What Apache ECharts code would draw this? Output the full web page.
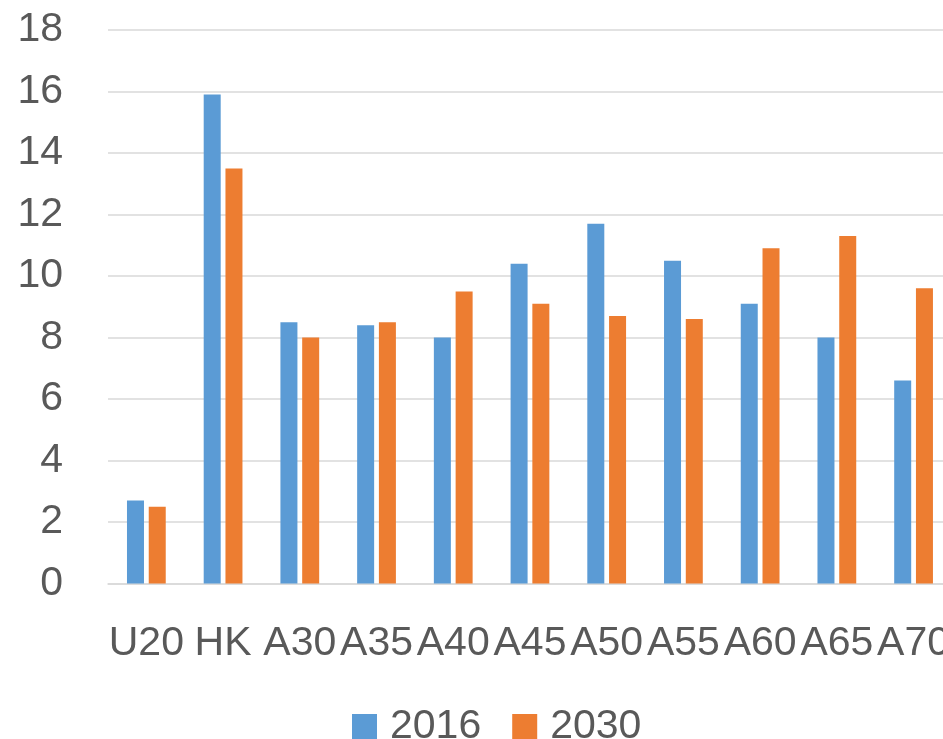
<!DOCTYPE html>
<html>
<head>
<meta charset="utf-8">
<script src="https://cdn.jsdelivr.net/npm/echarts@6/dist/echarts.min.js"></script>
<style>
  html, body { margin: 0; padding: 0; background: #ffffff; overflow: hidden; }
  #chart { width: 953px; height: 739px; }
</style>
</head>
<body>
<div id="chart"></div>
<script>
// Age groups on the category axis
const categories = ['U20', 'HK', 'A30', 'A35', 'A40', 'A45', 'A50', 'A55', 'A60', 'A65', 'A70'];
// Share per age group, two years
const values2016 = [2.7, 15.9, 8.5, 8.4, 8.0, 10.4, 11.7, 10.5, 9.1, 8.0, 6.6];
const values2030 = [2.5, 13.5, 8.0, 8.5, 9.5, 9.1, 8.7, 8.6, 10.9, 11.3, 9.6];
const seriesNames = ['2016', '2030'];

const textColor = '#595959';
const gridColor = '#d9d9d9';
const fontFamily = '"Liberation Sans", Arial, sans-serif';

const chart = echarts.init(document.getElementById('chart'), null, { renderer: 'canvas' });

chart.setOption({
  animation: false,
  backgroundColor: '#ffffff',
  textStyle: { fontFamily: fontFamily },
  grid: {
    left: 108,
    top: 30,
    width: 845,
    height: 553.5,
    containLabel: false
  },
  legend: {
    data: seriesNames,
    top: 706,
    left: 352,
    padding: 0,
    itemWidth: 25,
    itemHeight: 25,
    itemGap: 31,
    icon: 'rect',
    textStyle: { color: textColor, fontSize: 41, fontFamily: fontFamily, padding: [0, 0, 0, 8] }
  },
  xAxis: {
    type: 'category',
    data: categories,
    axisTick: { show: false },
    axisLine: { show: true, lineStyle: { color: gridColor, width: 1.5 } },
    axisLabel: {
      interval: 0,
      color: textColor,
      fontSize: 41,
      fontFamily: fontFamily,
      margin: 40
    },
    splitLine: { show: false }
  },
  yAxis: {
    type: 'value',
    min: 0,
    max: 18,
    interval: 2,
    axisLine: { show: false },
    axisTick: { show: false },
    axisLabel: {
      color: textColor,
      fontSize: 41,
      fontFamily: fontFamily,
      margin: 45
    },
    splitLine: { show: true, lineStyle: { color: gridColor, width: 1.5 } }
  },
  series: [
    {
      name: seriesNames[0],
      type: 'bar',
      data: values2016,
      barWidth: 17,
      barGap: '28%',
      itemStyle: { color: '#5B9BD5' }
    },
    {
      name: seriesNames[1],
      type: 'bar',
      data: values2030,
      barWidth: 17,
      barGap: '28%',
      itemStyle: { color: '#ED7D31' }
    }
  ]
});
</script>
</body>
</html>
